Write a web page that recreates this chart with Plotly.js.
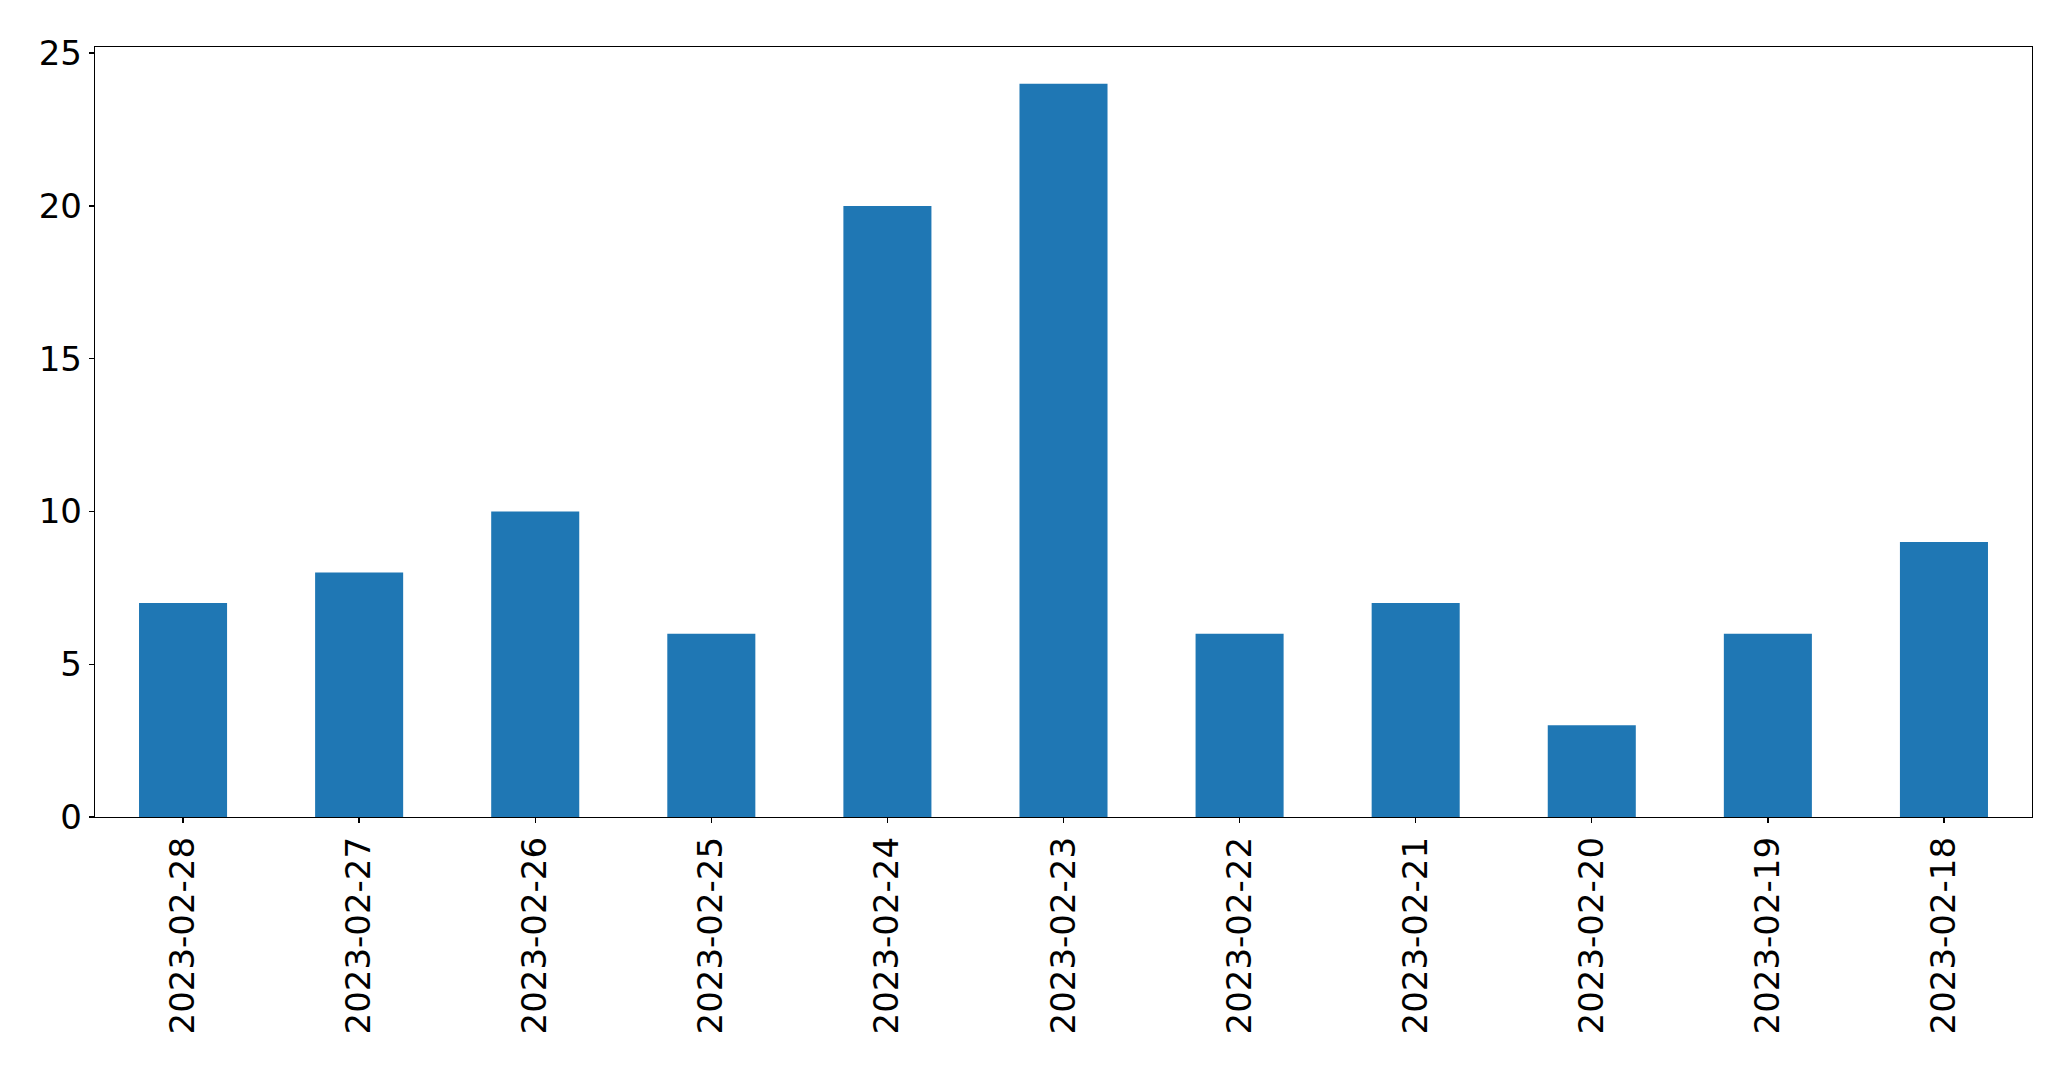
<!DOCTYPE html>
<html>
<head>
<meta charset="utf-8">
<script src="https://cdn.plot.ly/plotly-3.0.1.min.js"></script>
<style>html,body{margin:0;padding:0;background:#fff;}#chart{width:2071px;height:1069px;}</style>
</head>
<body>
<div id="chart"></div>
<script>
const dates = ["2023-02-28","2023-02-27","2023-02-26","2023-02-25","2023-02-24","2023-02-23","2023-02-22","2023-02-21","2023-02-20","2023-02-19","2023-02-18"];
const counts = [7, 8, 10, 6, 20, 24, 6, 7, 3, 6, 9];
const yTicks = [0, 5, 10, 15, 20, 25];

const trace = {
  type: "bar",
  x: dates,
  y: counts,
  width: 0.5,
  marker: {color: "#1f77b4", line: {width: 0}},
  hoverinfo: "x+y"
};

const font = {family: "DejaVu Sans, sans-serif", size: 34, color: "#000"};

const layout = {
  width: 2071,
  height: 1069,
  margin: {l: 94.5, r: 39.3, t: 47.3, b: 251.7, pad: 0},
  paper_bgcolor: "#fff",
  plot_bgcolor: "#fff",
  showlegend: false,
  font: font,
  xaxis: {
    type: "category",
    range: [-0.5, 10.5],
    tickangle: -90,
    ticks: "outside",
    ticklen: 5,
    tickwidth: 1.3,
    tickcolor: "#000",
    showline: true,
    linecolor: "#000",
    linewidth: 1.3,
    mirror: true,
    showgrid: false,
    zeroline: false,
    tickfont: font
  },
  yaxis: {
    range: [0, 25.2],
    tickvals: yTicks,
    ticktext: yTicks.map(String),
    ticks: "outside",
    ticklen: 5,
    tickwidth: 1.3,
    tickcolor: "#000",
    showline: true,
    linecolor: "#000",
    linewidth: 1.3,
    mirror: true,
    showgrid: false,
    zeroline: false,
    tickfont: font
  }
};

Plotly.newPlot("chart", [trace], layout, {displayModeBar: false, staticPlot: true});
</script>
</body>
</html>
